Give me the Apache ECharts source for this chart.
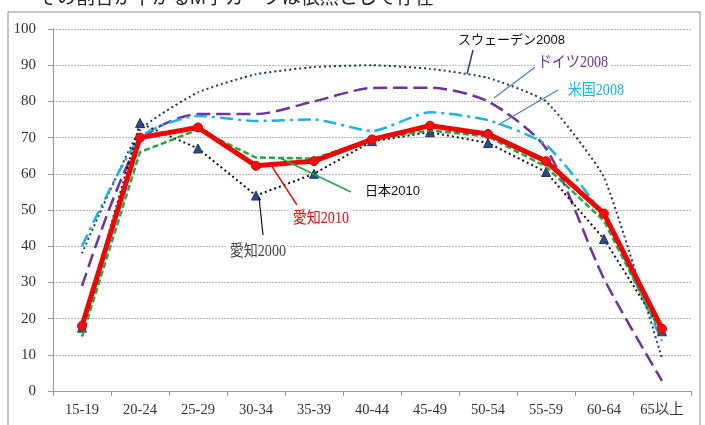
<!DOCTYPE html>
<html>
<head>
<meta charset="utf-8">
<script src="https://cdn.jsdelivr.net/npm/echarts@6/dist/echarts.min.js"></script>
<style>
  html, body { margin: 0; padding: 0; background: #fff; }
  #chart { width: 705px; height: 425px; }
</style>
</head>
<body>
<div id="chart"></div>
<script>
// Age groups on the category axis
const ageGroups = ['15-19', '20-24', '25-29', '30-34', '35-39', '40-44', '45-49', '50-54', '55-59', '60-64', '65以上'];

// Female labour force participation rate (%) by age group
const sweden2008 = [38, 72, 82.5, 87.5, 89.5, 90, 89, 86.5, 80, 59, 9];
const germany2008 = [29, 69, 76.5, 76.5, 80, 83.7, 83.8, 80, 67, 31, 2.8];
const usa2008 = [40, 70, 76, 74.6, 75, 71.8, 77, 74.8, 68, 48, 13.8];
const aichi2000 = [17.5, 74, 67, 54, 60, 69, 71.5, 68.5, 60.5, 42, 16.5];
const japan2010 = [15, 66, 72.2, 64.5, 64.2, 69.5, 72, 70.3, 62, 47, 15.5];
const aichi2010 = [18, 70, 72.8, 62.2, 63.5, 69.5, 73.3, 71, 63.5, 49, 17.2];

const serif = '"Liberation Serif", "DejaVu Serif", "Noto Sans CJK JP", serif';
const sans = '"Liberation Sans", "Noto Sans CJK JP", sans-serif';

const chart = echarts.init(document.getElementById('chart'), null, { renderer: 'canvas' });

function label(text, x, y, color, font, size, sx) {
  return {
    type: 'text', x: x, y: y, z: 50, scaleX: sx || 1,
    style: {
      text: text, fill: color, font: size + 'px ' + font,
      backgroundColor: '#fff', padding: [1, 3]
    }
  };
}
function leader(x1, y1, x2, y2, color, w) {
  return {
    type: 'line', z: 40,
    shape: { x1: x1, y1: y1, x2: x2, y2: y2 },
    style: { stroke: color, lineWidth: w || 1.2 }
  };
}

chart.setOption({
  animation: false,
  backgroundColor: '#fff',
  grid: { left: 53, right: 14, top: 29, bottom: 34 },
  xAxis: {
    type: 'category',
    data: ageGroups,
    boundaryGap: true,
    axisLine: { lineStyle: { color: '#9a9a9a', width: 1 } },
    axisTick: { show: true, length: 5, alignWithLabel: false, lineStyle: { color: '#9a9a9a' } },
    axisLabel: { color: '#333', fontFamily: serif, fontSize: 14.5, margin: 12, interval: 0 },
    splitLine: { show: false }
  },
  yAxis: {
    type: 'value',
    min: 0, max: 100, interval: 10,
    axisLine: { show: true, lineStyle: { color: '#9a9a9a', width: 1 } },
    axisTick: { show: true, length: 5, lineStyle: { color: '#9a9a9a' } },
    axisLabel: { color: '#333', fontFamily: serif, fontSize: 15, margin: 17 },
    splitLine: { show: true, lineStyle: { color: '#b8b8b8', width: 1, type: [2, 1] } }
  },
  series: [
    {
      name: 'スウェーデン2008', type: 'line', data: sweden2008, smooth: 0.15,
      showSymbol: false, z: 2,
      lineStyle: { color: '#1f3864', width: 2, type: [2, 3] }
    },
    {
      name: 'ドイツ2008', type: 'line', data: germany2008, smooth: 0.25,
      showSymbol: false, z: 3,
      lineStyle: { color: '#7030a0', width: 2.5, type: [14, 6] }
    },
    {
      name: '米国2008', type: 'line', data: usa2008, smooth: 0.2,
      showSymbol: false, z: 4,
      lineStyle: { color: '#1fb0e6', width: 2.5, type: [13, 5, 3, 5] }
    },
    {
      name: '愛知2000', type: 'line', data: aichi2000,
      symbol: 'triangle', symbolSize: 9, z: 5,
      itemStyle: { color: '#2a4a80', borderColor: '#1f3864', borderWidth: 1 },
      lineStyle: { color: '#111', width: 2, type: [2, 3] }
    },
    {
      name: '日本2010', type: 'line', data: japan2010,
      showSymbol: false, z: 6,
      lineStyle: { color: '#22a845', width: 2.5, type: [6, 3] }
    },
    {
      name: '愛知2010', type: 'line', data: aichi2010,
      symbol: 'circle', symbolSize: 9, z: 7,
      itemStyle: { color: '#f01010', borderColor: '#e00000', borderWidth: 1 },
      lineStyle: { color: '#f00000', width: 5 }
    }
  ],
  graphic: [
    // outer frame of the figure
    { type: 'rect', z: 0, shape: { x: 8, y: 12, width: 692, height: 430 },
      style: { fill: 'none', stroke: '#8c8c8c', lineWidth: 1 } },
    // heading, partly cut off by the top edge
    { type: 'text', x: 38, y: -11, z: 60,
      style: { text: 'その割合が下がるM字カーブは依然として存在', fill: '#222', font: '19px ' + sans } },

    leader(473, 50, 467, 74, '#1f3864', 1.4),
    leader(538, 65, 494, 98, '#4a7ebb', 1.2),
    leader(558, 90, 498, 125, '#4a7ebb', 1.2),
    leader(280, 158, 351, 192, '#22a845', 1.4),
    leader(271, 165, 297, 205, '#e01010', 1.4),
    leader(259, 197, 263, 235, '#111', 1.2),

    label('スウェーデン2008', 455, 33, '#111', sans, 13),
    label('ドイツ2008', 535, 54, '#7030a0', serif, 16, 0.88),
    label('米国2008', 565, 82, '#1fb0e6', serif, 16, 0.88),
    label('日本2010', 362, 184, '#111', sans, 13),
    label('愛知2010', 290, 210, '#e01010', serif, 16, 0.88),
    label('愛知2000', 227, 243, '#444', serif, 16, 0.88)
  ]
});
</script>
</body>
</html>
